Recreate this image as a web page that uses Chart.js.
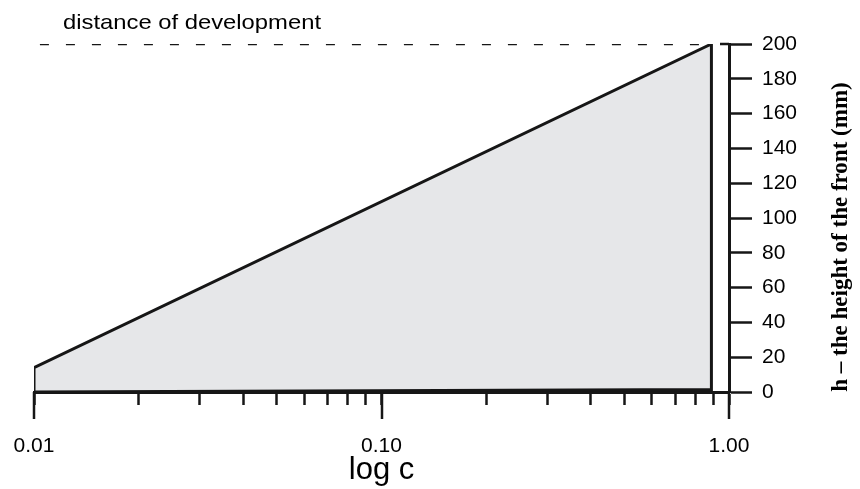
<!DOCTYPE html>
<html>
<head>
<meta charset="utf-8">
<script src="https://cdn.jsdelivr.net/npm/chart.js@4.4.1/dist/chart.umd.min.js"></script>
<style>
  html, body { margin: 0; padding: 0; background: #fff; }
  #wrap { width: 860px; height: 489px; }
</style>
</head>
<body>
<div id="wrap"><canvas id="chart"></canvas></div>
<script>
'use strict';

//data
//the shaded region: corners in (c, h)
const shapeC = [0.01, 0.01, 0.89, 0.89, 0.01];
const shapeH = [0, 14, 200, 1.5, 0];
//dashed line for distance of development
const devC = [0.0104, 0.84];
const devH = [200, 200];

//axis ticks
const xTicks = [0.01, 0.02, 0.03, 0.04, 0.05, 0.06, 0.07, 0.08, 0.09,
  0.1, 0.2, 0.3, 0.4, 0.5, 0.6, 0.7, 0.8, 0.9, 1];
const xMajor = [0.01, 0.1, 1];
const xMajorLabels = ['0.01', '0.10', '1.00'];
const yTicks = [0, 20, 40, 60, 80, 100, 120, 140, 160, 180, 200];

const ink = '#161616';
const sans = '"Liberation Sans", Arial, sans-serif';
const serif = '"Liberation Serif", "Times New Roman", serif';

function toPoints(xs, ys) {
  let pts = [];
  for (let i = 0; i < xs.length; i++) {
    pts.push({ x: xs[i], y: ys[i] });
  }
  return pts;
}

//extra drawing: long major ticks, texts
const extras = {
  id: 'extras',
  afterDraw(chart) {
    const ctx = chart.ctx;
    const x = chart.scales.x;
    const y = chart.scales.y;
    const area = chart.chartArea;

    ctx.save();
    ctx.strokeStyle = ink;
    ctx.lineWidth = 2.5;
    for (let i = 0; i < xMajor.length; i++) {
      let px = Math.round(x.getPixelForValue(xMajor[i]));
      ctx.beginPath();
      ctx.moveTo(px, area.bottom);
      ctx.lineTo(px, area.bottom + 27);
      ctx.stroke();
    }
    //200 tick crosses the axis
    let top = y.getPixelForValue(200);
    ctx.beginPath();
    ctx.moveTo(area.right - 9, top);
    ctx.lineTo(area.right, top);
    ctx.stroke();

    //label above the dashed line
    ctx.fillStyle = '#000';
    ctx.font = '21px ' + sans;
    ctx.textBaseline = 'alphabetic';
    ctx.textAlign = 'left';
    let label = 'distance of development';
    let w = ctx.measureText(label).width;
    ctx.translate(63, 29);
    ctx.scale(258 / w, 1);
    ctx.fillText(label, 0, 0);
    ctx.restore();

    //right axis title, reading upwards
    ctx.save();
    ctx.fillStyle = '#000';
    ctx.font = 'bold 23px ' + serif;
    ctx.textAlign = 'center';
    ctx.textBaseline = 'middle';
    ctx.translate(841, 237);
    ctx.rotate(-Math.PI / 2);
    ctx.fillText('h \u2013 the height of the front (mm)', 0, 0);
    ctx.restore();
  }
};

const config = {
  type: 'scatter',
  data: {
    datasets: [{
      label: 'region',
      data: toPoints(shapeC, shapeH),
      showLine: true,
      fill: 'shape',
      backgroundColor: '#e6e7e9',
      borderColor: ink,
      borderWidth: 3,
      pointRadius: 0,
      tension: 0
    },
    {
      label: 'distance of development',
      data: toPoints(devC, devH),
      showLine: true,
      fill: false,
      borderColor: ink,
      borderWidth: 2.5,
      borderDash: [9, 17],
      pointRadius: 0
    }]
  },
  options: {
    responsive: true,
    maintainAspectRatio: false,
    animation: false,
    layout: {
      padding: { left: 34, top: 44, right: 0, bottom: 0 }
    },
    plugins: {
      legend: { display: false },
      tooltip: { enabled: false }
    },
    scales: {
      x: {
        type: 'logarithmic',
        min: 0.01,
        max: 1,
        afterBuildTicks: function(scale) {
          scale.ticks = xTicks.map(v => ({ value: v, major: xMajor.includes(v) }));
        },
        afterFit: function(scale) {
          scale.height = 97;
          scale.paddingLeft = 0;
          scale.paddingRight = 0;
        },
        border: { display: true, color: ink, width: 3 },
        grid: {
          display: true,
          drawOnChartArea: false,
          drawTicks: true,
          tickLength: 13,
          tickWidth: 2.5,
          tickColor: ink
        },
        ticks: {
          autoSkip: false,
          maxRotation: 0,
          minRotation: 0,
          padding: 29,
          color: '#000',
          font: { family: sans, size: 21 },
          callback: function(value) {
            let i = xMajor.indexOf(value);
            return i >= 0 ? xMajorLabels[i] : '';
          }
        },
        title: {
          display: true,
          text: 'log c',
          color: '#000',
          font: { family: sans, size: 31 },
          padding: { top: 0, bottom: 0 }
        }
      },
      y: {
        position: 'right',
        min: 0,
        max: 200,
        afterBuildTicks: function(scale) {
          scale.ticks = yTicks.map(v => ({ value: v }));
        },
        afterFit: function(scale) {
          scale.width = 131;
        },
        border: { display: true, color: ink, width: 3 },
        grid: {
          display: true,
          drawOnChartArea: false,
          drawTicks: true,
          tickLength: 23,
          tickWidth: 2.5,
          tickColor: ink
        },
        ticks: {
          padding: 10,
          color: '#000',
          font: { family: sans, size: 21 }
        },
        title: { display: false }
      }
    }
  },
  plugins: [extras]
};

const myChart = new Chart(document.getElementById('chart').getContext('2d'), config);
</script>
</body>
</html>
